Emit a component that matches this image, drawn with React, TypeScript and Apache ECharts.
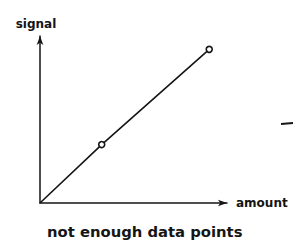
import React, { useEffect, useRef } from "react";
import * as echarts from "echarts";

const amounts = [0, 3.3, 9.05];
const signals = [0, 3.5, 9.2];
const showMarker = [false, true, true];
const xAxisName = "amount";
const yAxisName = "signal";
const caption = "not enough data points";

export default function App() {
  const ref = useRef<HTMLDivElement>(null);
  useEffect(() => {
    if (!ref.current) return;
    const chart = echarts.init(ref.current, null, { renderer: "svg" });
    const ink = "#151515";
    const font = "DejaVu Sans, Liberation Sans, sans-serif";
    const data = amounts.map((a, i) => ({
      value: [a, signals[i]],
      symbol: showMarker[i] ? "circle" : "none",
    }));
    chart.setOption({
      animation: false,
      backgroundColor: "#ffffff",
      grid: { left: 40, right: 67, top: 36, bottom: 37 },
      xAxis: {
        type: "value",
        min: 0,
        max: 10,
        name: xAxisName,
        nameLocation: "end",
        nameGap: 9,
        nameTextStyle: {
          color: ink,
          fontFamily: font,
          fontWeight: "bold",
          fontSize: 12,
          verticalAlign: "middle",
          padding: [6, 0, 0, 0],
        },
        axisLine: {
          show: true,
          symbol: ["none", "arrow"],
          symbolSize: [5, 9],
          lineStyle: { color: ink, width: 1.5 },
        },
        axisTick: { show: false },
        axisLabel: { show: false },
        splitLine: { show: false },
      },
      yAxis: {
        type: "value",
        min: 0,
        max: 10,
        name: yAxisName,
        nameLocation: "end",
        nameGap: 6,
        nameTextStyle: {
          color: ink,
          fontFamily: font,
          fontWeight: "bold",
          fontSize: 12,
          padding: [0, 8, 0, 0],
        },
        axisLine: {
          show: true,
          symbol: ["none", "arrow"],
          symbolSize: [5, 9],
          lineStyle: { color: ink, width: 1.5 },
        },
        axisTick: { show: false },
        axisLabel: { show: false },
        splitLine: { show: false },
      },
      series: [
        {
          type: "line",
          data,
          symbolSize: 6,
          showSymbol: true,
          lineStyle: { color: ink, width: 1.6 },
          itemStyle: { color: "#ffffff", borderColor: ink, borderWidth: 1.6 },
        },
      ],
      graphic: [
        {
          type: "text",
          left: 47,
          top: 224,
          style: {
            text: caption,
            fill: ink,
            fontFamily: font,
            fontWeight: "bold",
            fontSize: 14.8,
          },
        },
        {
          type: "line",
          shape: { x1: 281, y1: 124, x2: 293, y2: 123 },
          style: { stroke: ink, lineWidth: 2 },
        },
      ],
    });
    return () => chart.dispose();
  }, []);
  return <div ref={ref} style={{ width: 294, height: 240, position: "fixed", left: 0, top: 0 }} />;
}
